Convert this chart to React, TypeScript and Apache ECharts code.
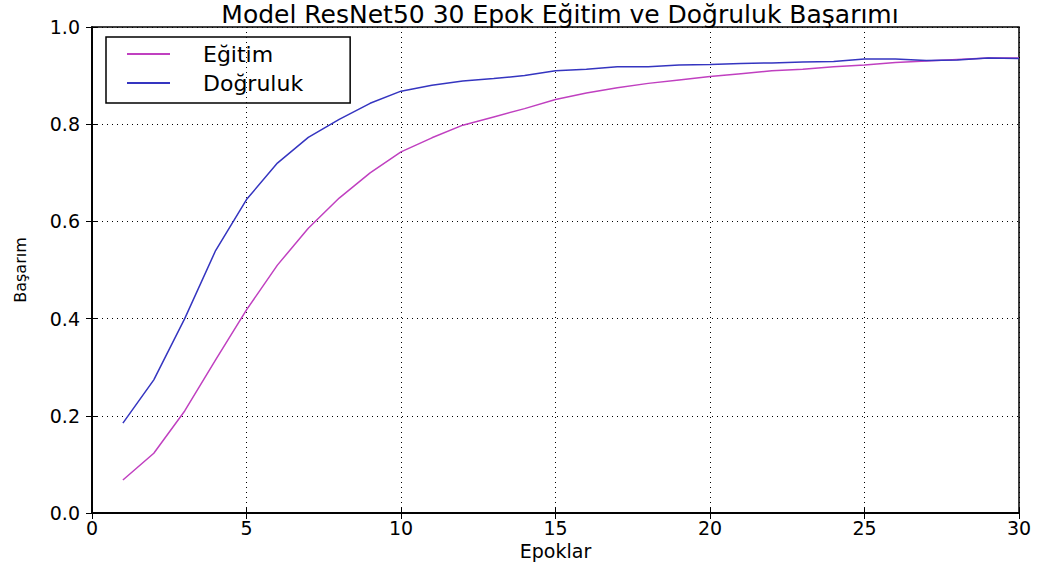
import React, { useEffect, useRef } from "react";
import * as echarts from "echarts";

const epochs = [1,2,3,4,5,6,7,8,9,10,11,12,13,14,15,16,17,18,19,20,21,22,23,24,25,26,27,28,29,30];
const egitim = [0.068,0.123,0.21,0.315,0.418,0.51,0.586,0.648,0.70,0.743,0.772,0.798,0.815,0.832,0.851,0.864,0.875,0.884,0.891,0.898,0.904,0.91,0.913,0.918,0.922,0.927,0.93,0.933,0.936,0.936];
const dogruluk = [0.185,0.274,0.40,0.54,0.645,0.72,0.773,0.81,0.843,0.868,0.88,0.889,0.894,0.90,0.91,0.913,0.918,0.918,0.922,0.923,0.925,0.926,0.928,0.929,0.934,0.934,0.931,0.932,0.936,0.935];

const FONT = "DejaVu Sans";

export default function App() {
  const ref = useRef<HTMLDivElement>(null);
  useEffect(() => {
    if (!ref.current) return;
    const chart = echarts.init(ref.current, undefined, { renderer: "svg" });
    const grid = { left: 92, right: 28, top: 27, bottom: 53 };
    const splitLine = { show: true, lineStyle: { color: "#000", type: [1, 4] as any, width: 1 } };
    chart.setOption({
      animation: false,
      backgroundColor: "#fff",
      title: {
        text: "Model ResNet50 30 Epok Eğitim ve Doğruluk Başarımı",
        left: 560, textAlign: "center", top: 0, padding: 0,
        textStyle: { fontFamily: FONT, fontSize: 25, lineHeight: 28, fontWeight: "normal", color: "#000" },
      },
      legend: {
        left: 106, top: 37, orient: "vertical",
        data: ["Eğitim", "Doğruluk"],
        icon: "rect", itemWidth: 43, itemHeight: 2, itemGap: 7,
        borderColor: "#000", borderWidth: 1.5,
        padding: [6, 47, 9, 21],
        textStyle: { fontFamily: FONT, fontSize: 22, lineHeight: 22, color: "#000", padding: [0, 0, 0, 28] },
      },
      grid: { ...grid, show: true, borderColor: "#000", borderWidth: 1.5, backgroundColor: "transparent" },
      xAxis: [
        {
          type: "value", min: 0, max: 30, interval: 5, position: "bottom",
          name: "Epoklar", nameLocation: "middle", nameGap: 25,
          nameTextStyle: { fontFamily: FONT, fontSize: 19, color: "#000" },
          axisLine: { show: true, lineStyle: { color: "#000", width: 1.5 } },
          axisTick: { show: true, inside: true, length: 6, lineStyle: { color: "#000" } },
          axisLabel: { fontFamily: FONT, fontSize: 19, color: "#000", margin: 5 },
          splitLine,
        },
        {
          type: "value", min: 0, max: 30, interval: 5, position: "top",
          axisLine: { show: true, lineStyle: { color: "#000", width: 1.5 } },
          axisTick: { show: true, inside: true, length: 6, lineStyle: { color: "#000" } },
          axisLabel: { show: false }, splitLine: { show: false },
        },
      ],
      yAxis: [
        {
          type: "value", min: 0, max: 1, interval: 0.2, position: "left",
          name: "Başarım", nameLocation: "middle", nameGap: 64,
          nameTextStyle: { fontFamily: FONT, fontSize: 16, color: "#000" },
          axisLine: { show: true, lineStyle: { color: "#000", width: 1.5 } },
          axisTick: { show: true, inside: true, length: 6, lineStyle: { color: "#000" } },
          axisLabel: { fontFamily: FONT, fontSize: 19, color: "#000", margin: 12, formatter: (v: number) => v.toFixed(1) },
          splitLine,
        },
        {
          type: "value", min: 0, max: 1, interval: 0.2, position: "right",
          axisLine: { show: true, lineStyle: { color: "#000", width: 1.5 } },
          axisTick: { show: true, inside: true, length: 6, lineStyle: { color: "#000" } },
          axisLabel: { show: false }, splitLine: { show: false },
        },
      ],
      series: [
        {
          name: "Eğitim", type: "line", showSymbol: false, symbol: "none",
          data: epochs.map((e, i) => [e, egitim[i]]),
          lineStyle: { color: "#c040c0", width: 1.5 }, itemStyle: { color: "#c040c0" },
        },
        {
          name: "Doğruluk", type: "line", showSymbol: false, symbol: "none",
          data: epochs.map((e, i) => [e, dogruluk[i]]),
          lineStyle: { color: "#3535c0", width: 1.5 }, itemStyle: { color: "#3535c0" },
        },
      ],
    });
    return () => chart.dispose();
  }, []);
  return <div ref={ref} style={{ position: "fixed", left: 0, top: 0, width: 1047, height: 566 }} />;
}
